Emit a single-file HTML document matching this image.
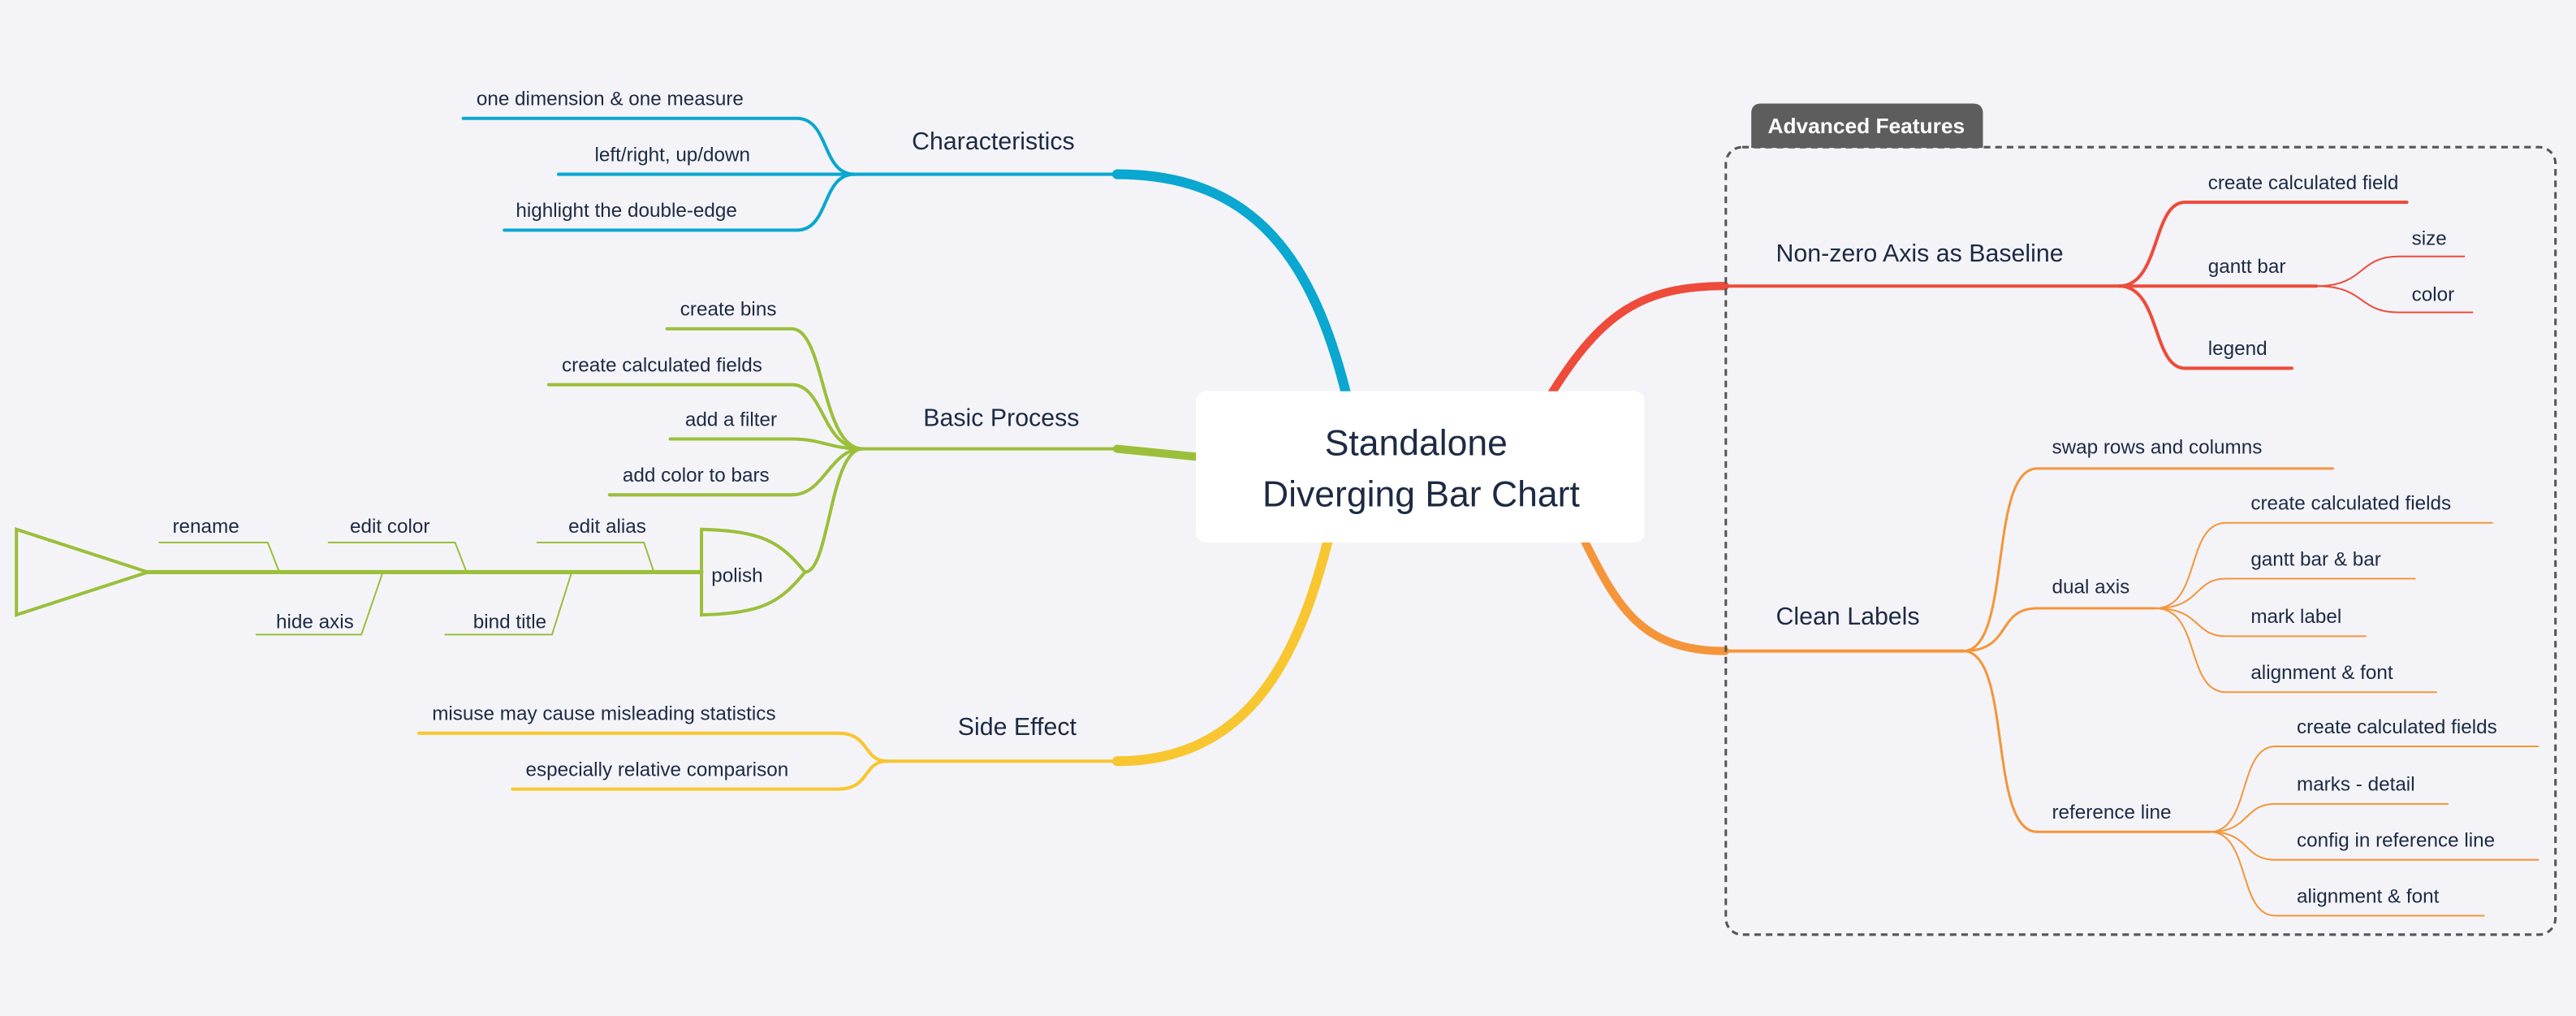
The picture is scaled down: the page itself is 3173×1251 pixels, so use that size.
<!DOCTYPE html>
<html><head><meta charset="utf-8"><style>
html,body{margin:0;padding:0;background:#f4f4f8;}
svg{display:block;}
text{font-family:"Liberation Sans",sans-serif;fill:#1d2a44;}
</style></head><body>
<svg width="3173" height="1251" viewBox="0 0 1568 618" preserveAspectRatio="none" xmlns="http://www.w3.org/2000/svg">
<rect width="1568" height="618" fill="#f4f4f8"/>
<g fill="none" stroke-linecap="round">
<!-- Characteristics -->
<path d="M820,242 C800,160 765,106 680,106" stroke="#0aa7d0" stroke-width="6"/>
<path d="M680,106 L520,106" stroke="#0aa7d0" stroke-width="2"/>
<g stroke="#0aa7d0" stroke-width="2">
<path d="M520,106 C500,106 505,72 485,72 L282,72"/>
<path d="M520,106 L340,106"/>
<path d="M520,106 C500,106 505,140 485,140 L307,140"/>
</g>
<!-- Basic Process -->
<path d="M730,278 L680,273" stroke="#9bbf3b" stroke-width="5"/>
<path d="M680,273 L525,273" stroke="#9bbf3b" stroke-width="2"/>
<g stroke="#9bbf3b" stroke-width="2">
<path d="M525,273 C500,273 502,200 482,200 L406,200"/>
<path d="M525,273 C500,273 502,234 482,234 L334,234"/>
<path d="M525,273 C505,273 500,267 482,267 L408,267"/>
<path d="M525,273 C505,273 502,301 482,301 L371,301"/>
<path d="M525,273 C505,273 505,348 490,348"/>
<path d="M490,348 C475,330 465,323 427,322 L427,374 C465,373 475,366 490,348"/>
<path d="M90,348 L427,348" stroke-width="2.5"/>
<polygon points="10,322 90,348 10,374"/>
<g stroke-width="1">
<path d="M97,330 L163,330 L170,348"/>
<path d="M200,330 L277,330 L284,348"/>
<path d="M327,330 L392,330 L398,348"/>
<path d="M156,386 L220,386 L233,348"/>
<path d="M271,386 L336,386 L348,348"/>
</g>
</g>
<!-- Side Effect -->
<path d="M808,330 C790,400 760,463 680,463" stroke="#f8c630" stroke-width="6"/>
<path d="M680,463 L540,463" stroke="#f8c630" stroke-width="2"/>
<g stroke="#f8c630" stroke-width="2">
<path d="M540,463 C525,463 530,446 510,446 L255,446"/>
<path d="M540,463 C525,463 530,480 510,480 L312,480"/>
</g>
<!-- Non-zero Axis -->
<path d="M944,240 C975,190 1000,174 1050,174" stroke="#ee4b3b" stroke-width="5"/>
<path d="M1050,174 L1290,174" stroke="#ee4b3b" stroke-width="2"/>
<g stroke="#ee4b3b" stroke-width="2">
<path d="M1290,174 C1315,174 1310,123 1330,123 L1465,123"/>
<path d="M1290,174 L1410,174"/>
<path d="M1290,174 C1315,174 1310,224 1330,224 L1395,224"/>
<path d="M1410,174 C1440,174 1435,156 1460,156 L1500,156" stroke-width="1"/>
<path d="M1410,174 C1440,174 1435,190 1460,190 L1505,190" stroke-width="1"/>
</g>
<!-- Clean Labels -->
<path d="M965,330 C985,370 1000,396 1050,396" stroke="#f5953a" stroke-width="5"/>
<path d="M1050,396 L1195,396" stroke="#f5953a" stroke-width="2"/>
<g stroke="#f5953a" stroke-width="1.5">
<path d="M1195,396 C1225,396 1210,285 1240,285 L1420,285"/>
<path d="M1195,396 C1225,396 1215,370 1240,370 L1312,370"/>
<path d="M1195,396 C1225,396 1210,506 1240,506 L1345,506"/>
</g>
<g stroke="#f5953a" stroke-width="1">
<path d="M1312,370 C1340,370 1330,318 1355,318 L1517,318"/>
<path d="M1312,370 C1340,370 1335,352 1355,352 L1470,352"/>
<path d="M1312,370 C1340,370 1335,387 1355,387 L1440,387"/>
<path d="M1312,370 C1340,370 1330,421 1355,421 L1483,421"/>
<path d="M1345,506 C1370,506 1362,454 1385,454 L1545,454"/>
<path d="M1345,506 C1370,506 1365,489 1385,489 L1490,489"/>
<path d="M1345,506 C1370,506 1365,523 1385,523 L1545,523"/>
<path d="M1345,506 C1370,506 1362,557 1385,557 L1512,557"/>
</g>
</g>
<!-- Advanced box -->
<rect x="1050.5" y="89.5" width="505" height="479" rx="10" fill="none" stroke="#555" stroke-width="1.5" stroke-dasharray="4 3"/>
<path d="M1066,90 L1066,69 Q1066,63 1072,63 L1201,63 Q1207,63 1207,69 L1207,90 Z" fill="#5d5d5d"/>
<text x="1136" y="81" text-anchor="middle" font-size="13" font-weight="bold" style="fill:#fff">Advanced Features</text>
<!-- Center -->
<rect x="728" y="238" width="273" height="92" rx="6" fill="#fff"/>
<text x="862" y="277" text-anchor="middle" font-size="22">Standalone</text>
<text x="865" y="308" text-anchor="middle" font-size="22">Diverging Bar Chart</text>
<!-- Labels -->
<g font-size="15">
<text x="555" y="91">Characteristics</text>
<text x="562" y="259">Basic Process</text>
<text x="583" y="447">Side Effect</text>
<text x="1081" y="159">Non-zero Axis as Baseline</text>
<text x="1081" y="380">Clean Labels</text>
</g>
<g font-size="12">
<text x="290" y="64">one dimension &amp; one measure</text>
<text x="362" y="98">left/right, up/down</text>
<text x="314" y="132">highlight the double-edge</text>
<text x="414" y="192">create bins</text>
<text x="342" y="226">create calculated fields</text>
<text x="417" y="259">add a filter</text>
<text x="379" y="293">add color to bars</text>
<text x="433" y="354">polish</text>
<text x="105" y="324">rename</text>
<text x="213" y="324">edit color</text>
<text x="346" y="324">edit alias</text>
<text x="168" y="382">hide axis</text>
<text x="288" y="382">bind title</text>
<text x="263" y="438">misuse may cause misleading statistics</text>
<text x="320" y="472">especially relative comparison</text>
<text x="1344" y="115">create calculated field</text>
<text x="1344" y="166">gantt bar</text>
<text x="1468" y="149">size</text>
<text x="1468" y="183">color</text>
<text x="1344" y="216">legend</text>
<text x="1249" y="276">swap rows and columns</text>
<text x="1249" y="361">dual axis</text>
<text x="1249" y="498">reference line</text>
<text x="1370" y="310">create calculated fields</text>
<text x="1370" y="344">gantt bar &amp; bar</text>
<text x="1370" y="379">mark label</text>
<text x="1370" y="413">alignment &amp; font</text>
<text x="1398" y="446">create calculated fields</text>
<text x="1398" y="481">marks - detail</text>
<text x="1398" y="515">config in reference line</text>
<text x="1398" y="549">alignment &amp; font</text>
</g>
</svg>
</body></html>
